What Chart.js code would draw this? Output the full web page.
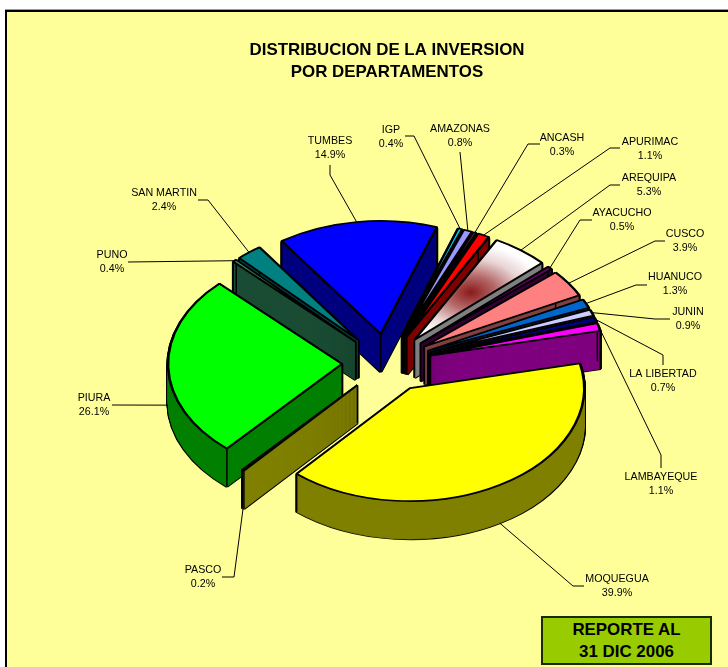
<!DOCTYPE html>
<html>
<head>
<meta charset="utf-8">
<style>
html,body{margin:0;padding:0;background:#fff;width:728px;height:667px;overflow:hidden}
#panel{position:absolute;left:5px;top:10px;width:740px;height:670px;background:#FFFF99;border:2px solid #000;box-shadow:0 -1px 0 #999}
canvas{position:absolute;left:0;top:0}
#stamp{position:absolute;left:541px;top:616px;width:167px;height:44px;padding-top:1px;background:#99CC00;border:2px solid #1a2a00;
font:bold 16.9px/22px "Liberation Sans",Arial,sans-serif;text-align:center;color:#000}
</style>
</head>
<body>
<div id="panel"></div>
<canvas id="c" width="728" height="667"></canvas>
<div id="stamp">REPORTE AL<br>31 DIC 2006</div>
<script src="https://cdn.jsdelivr.net/npm/chart.js@4"></script>
<script>
const departments = ['IGP','AMAZONAS','ANCASH','APURIMAC','AREQUIPA','AYACUCHO','CUSCO','HUANUCO','JUNIN','LA LIBERTAD','LAMBAYEQUE','MOQUEGUA','PASCO','PIURA','PUNO','SAN MARTIN','TUMBES'];
const shares = [0.4,0.8,0.3,1.1,5.3,0.5,3.9,1.3,0.9,0.7,1.1,39.9,0.2,26.1,0.4,2.4,14.9];
const colors = ['#00CCFF','#9999FF','#993366','#FF0000','#FFFFFF','#660066','#FF8080','#0066CC','#CCCCFF','#000080','#FF00FF','#FFFF00','#FFFF00','#00FF00','#339966','#008080','#0000FF'];
const titleLines = ['DISTRIBUCION DE LA INVERSION','POR DEPARTAMENTOS'];

// label placement: [centre x, first-line y, elbow/start polyline]
const labelLayout = [
  [391,130,[[405,136],[414,136]]],
  [460,129,[[460,152]]],
  [562,138,[[540,144],[528,144]]],
  [650,142,[[620,148],[610,148]]],
  [649,178,[[620,185],[610,185]]],
  [622,213,[[592,220],[580,220]]],
  [685,234,[[665,241],[655,241]]],
  [675,277,[[647,285],[636,285]]],
  [688,312,[[670,319],[655,319]]],
  [663,374,[[663,365],[663,355]]],
  [661,477,[[661,468],[661,455]]],
  [617,579,[[584,586],[573,586]]],
  [203,570,[[222,577],[234,577]]],
  [94,398,[[112,405]]],
  [112,255,[[128,262]]],
  [164,193,[[198,200],[208,200]]],
  [330,141,[[330,165],[330,175]]]
];

const SQUASH = 0.65, DEPTH = 38, EXPLODE = 45;

function halve(hex){
  const n = parseInt(hex.slice(1),16);
  const c = s => Math.round(((n>>s)&255)/2).toString(16).padStart(2,'0');
  return '#'+c(16)+c(8)+c(0);
}

const pie3d = {
  id:'pie3d',
  beforeDatasetDraw(){ return false; },
  afterDatasetsDraw(chart){
    const ctx = chart.ctx;
    const arcs = chart.getDatasetMeta(0).data;
    const mid = a => (a.startAngle+a.endAngle)/2;
    const order = arcs.map((a,i)=>i).sort((p,q)=>Math.sin(mid(arcs[p]))-Math.sin(mid(arcs[q])));
    const place = (a,d) => {
      ctx.translate(a.x, a.y+d);
      ctx.scale(1,SQUASH);
      ctx.translate(-a.x,-a.y);
      const m = mid(a);
      ctx.translate(Math.cos(m)*EXPLODE, Math.sin(m)*EXPLODE);
    };
    const paint = (a,d,fill,bw,edge) => {
      const base = a.options;
      a.options = Object.assign(Object.create(base),{backgroundColor:fill,borderColor:edge,borderWidth:bw,offset:0,spacing:0});
      ctx.save(); place(a,d); a.draw(ctx); ctx.restore();
      a.options = base;
    };
    const screen = (a,ang,r) => {
      const m = mid(a);
      return [a.x+Math.cos(m)*EXPLODE+Math.cos(ang)*r, a.y+(Math.sin(m)*EXPLODE+Math.sin(ang)*r)*SQUASH];
    };
    for(const i of order){
      const a = arcs[i], side = halve(colors[i]);
      for(let d=DEPTH;d>=1;d-=1) paint(a,d,'#000',3.4,'#000');
      for(let d=DEPTH;d>=1;d-=1) paint(a,d,side,1,side);
      ctx.save();
      ctx.strokeStyle='#000'; ctx.lineWidth=1.5;
      for(const p of [screen(a,0,0),screen(a,a.startAngle,a.outerRadius),screen(a,a.endAngle,a.outerRadius)]){
        ctx.beginPath(); ctx.moveTo(p[0],p[1]); ctx.lineTo(p[0],p[1]+DEPTH); ctx.stroke();
      }
      ctx.restore();
      let fill = colors[i];
      if(departments[i]==='AREQUIPA'){
        const m = mid(a), r0 = a.outerRadius*0.53;
        const gx = a.x+Math.cos(m)*r0, gy = a.y+Math.sin(m)*r0;
        const g = ctx.createRadialGradient(gx,gy,0,gx,gy,a.outerRadius*0.42);
        g.addColorStop(0,'#8B1A1A');
        g.addColorStop(0.35,'#B56A6A');
        g.addColorStop(0.7,'#E8D4D4');
        g.addColorStop(1,'#FFFFFF');
        fill = g;
      }
      paint(a,0,fill,2.6,'#000');
    }
    // leader lines and labels
    ctx.save();
    ctx.strokeStyle='#000'; ctx.lineWidth=1;
    ctx.fillStyle='#000'; ctx.textAlign='center'; ctx.textBaseline='middle';
    ctx.font='10.7px "Liberation Sans", Arial, sans-serif';
    arcs.forEach((a,i)=>{
      const [lx,ly,pts] = labelLayout[i];
      const m = mid(a);
      const rim = screen(a,m,a.outerRadius);
      const endY = rim[1]+(Math.sin(m)>0?DEPTH:0);
      ctx.beginPath();
      pts.forEach((p,k)=>k?ctx.lineTo(p[0],p[1]):ctx.moveTo(p[0],p[1]));
      ctx.lineTo(rim[0],endY);
      ctx.stroke();
      ctx.fillText(departments[i],lx,ly);
      ctx.fillText(shares[i].toFixed(1)+'%',lx,ly+14.5);
    });
    ctx.restore();
  }
};

new Chart(document.getElementById('c'),{
  type:'pie',
  data:{labels:departments,datasets:[{data:shares,backgroundColor:colors,borderColor:'#000',borderWidth:2}]},
  plugins:[pie3d],
  options:{
    responsive:false,animation:false,
    rotation:18.8,radius:174,
    layout:{padding:{left:46,right:0,top:0,bottom:24}},
    plugins:{
      legend:{display:false},tooltip:{enabled:false},
      title:{display:true,text:titleLines,color:'#000',fullSize:false,
        font:{family:'"Liberation Sans", Arial, sans-serif',size:16.9,weight:'bold',lineHeight:1.3},
        padding:{top:39,bottom:0}}
    }
  }
});
</script>
</body>
</html>
